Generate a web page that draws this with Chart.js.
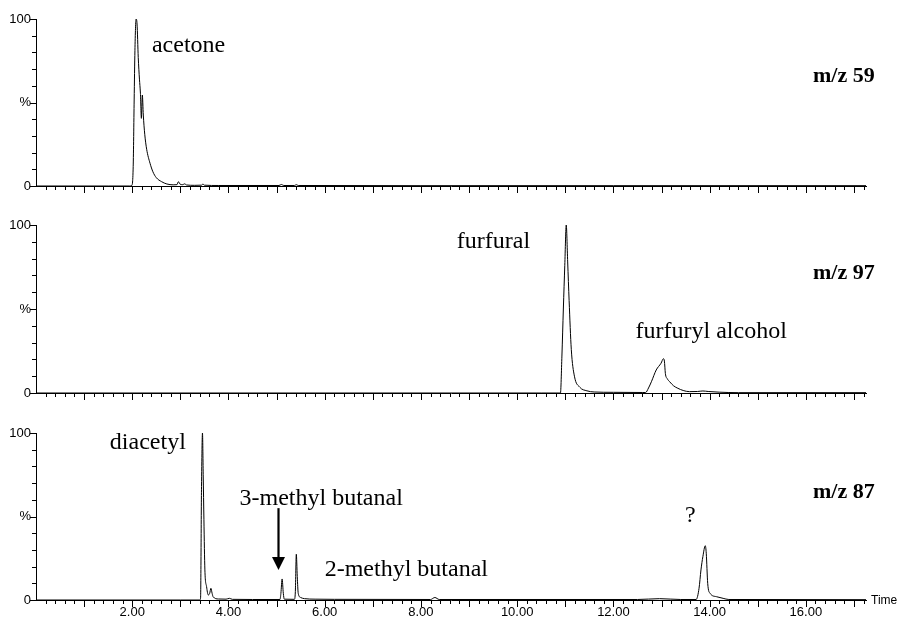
<!DOCTYPE html>
<html>
<head>
<meta charset="utf-8">
<script src="https://cdn.jsdelivr.net/npm/chart.js@4/dist/chart.umd.min.js"></script>
<style>
  html, body { margin: 0; padding: 0; background: #fff; }
  #wrap { position: relative; width: 901px; height: 618px; overflow: hidden; }
  canvas { position: absolute; left: 0; }
</style>
</head>
<body>
<div id="wrap">
  <canvas id="c1" width="901" height="205" style="top:0px"></canvas>
  <canvas id="c2" width="901" height="205" style="top:205px"></canvas>
  <canvas id="c3" width="901" height="208" style="top:410px"></canvas>
</div>
<script>
// ---- Data (retention time in minutes, relative intensity in %) ----
const ionLabels = ['m/z 59', 'm/z 97', 'm/z 87'];
const xTickLabels = ['2.00', '4.00', '6.00', '8.00', '10.00', '12.00', '14.00', '16.00'];
const yTickLabels = ['0', '%', '100'];

const time59 = [0, 1.5, 1.95, 1.99, 2.02, 2.04, 2.056, 2.08, 2.10, 2.125, 2.15, 2.17, 2.19, 2.21, 2.23, 2.26, 2.30, 2.37, 2.43, 2.50, 2.61, 2.72, 2.85, 2.93, 2.96, 2.99, 3.05, 3.09, 3.13, 3.3, 3.44, 3.47, 3.50, 3.8, 5.05, 5.1, 5.15, 5.37, 5.41, 5.45, 8, 12, 17.25];
const int59  = [0, 0, 0, 0.3, 11.6, 51.5, 81, 100, 97, 77, 64, 55.6, 40.5, 54.5, 42.5, 31, 22, 13.6, 8.5, 5, 2.6, 1.2, 0.7, 0.8, 2.6, 1.2, 0.8, 1.3, 0.6, 0.4, 0.5, 1.2, 0.5, 0.3, 0.3, 0.9, 0.3, 0.3, 0.8, 0.3, 0.2, 0.2, 0.2];

const time97 = [0, 10.5, 10.90, 10.93, 10.96, 10.99, 11.02, 11.05, 11.08, 11.125, 11.19, 11.30, 11.45, 11.60, 12.0, 12.6, 12.67, 12.73, 12.79, 12.89, 12.99, 13.04, 13.06, 13.08, 13.12, 13.17, 13.25, 13.34, 13.45, 13.58, 13.75, 13.86, 13.97, 14.2, 14.6, 17.25];
const int97  = [0, 0, 0, 22, 50, 76, 100, 78, 55, 26, 10, 3.5, 1.3, 0.6, 0.4, 0.3, 0.3, 3, 6.7, 13.7, 17.7, 20.4, 19, 11.7, 8.5, 6.7, 4.3, 2.8, 1.5, 0.8, 0.9, 1.2, 0.9, 0.5, 0.2, 0.2];

const time87 = [0, 3.0, 3.40, 3.42, 3.44, 3.46, 3.475, 3.49, 3.51, 3.545, 3.58, 3.61, 3.635, 3.66, 3.68, 3.79, 3.95, 4.02, 4.08, 4.5, 5.07, 5.09, 5.115, 5.14, 5.16, 5.37, 5.39, 5.41, 5.43, 5.45, 5.50, 5.58, 5.8, 6.2, 8.2, 8.29, 8.38, 12.5, 12.96, 13.4, 13.72, 13.78, 13.82, 13.86, 13.91, 13.93, 13.96, 14.01, 14.14, 14.28, 14.4, 17.25];
const int87  = [0, 0, 0, 1, 68, 100, 75, 48, 18, 8, 3, 4, 7, 4, 2, 0.6, 0.5, 1.0, 0.4, 0.3, 0.3, 4, 12.6, 4, 0.5, 0.4, 5, 27.4, 14, 4, 1.5, 0.8, 0.5, 0.4, 0.3, 1.5, 0.3, 0.3, 0.8, 0.3, 0.3, 7, 18, 26, 32.5, 28, 10, 4, 2, 1, 0.3, 0.2];

// ---- Peak annotations ----
const peakNames59 = ['acetone'];
const peakNames97 = ['furfural', 'furfuryl alcohol'];
const peakNames87 = ['diacetyl', '3-methyl butanal', '2-methyl butanal', '?'];

// ---- Rendering ----
const SERIF = '"Liberation Serif", "Times New Roman", serif';
const SANS = '"Liberation Sans", Arial, sans-serif';
const X_MIN = 0, X_MAX = 17.25;

const decor = {
  id: 'decor',
  afterDraw(chart, args, opts) {
    const ctx = chart.ctx, xs = chart.scales.x, ys = chart.scales.y;
    ctx.save();
    ctx.strokeStyle = '#000';
    ctx.lineWidth = 1;
    ctx.beginPath();
    const yb = Math.round(ys.bottom);
    xs.ticks.forEach(t => {
      if (t.value <= 0) return;
      const px = Math.round(xs.getPixelForValue(t.value)) + 0.5;
      const major = Math.abs(t.value - Math.round(t.value)) < 1e-6;
      ctx.moveTo(px, yb);
      ctx.lineTo(px, yb + (major ? 7 : 4));
    });
    const xl = Math.round(xs.left);
    ys.ticks.forEach(t => {
      const py = Math.round(ys.getPixelForValue(t.value)) + 0.5;
      const major = Math.round(t.value) % 50 === 0;
      ctx.moveTo(xl, py);
      ctx.lineTo(xl - (major ? 6 : 4), py);
    });
    ctx.stroke();

    ctx.fillStyle = '#000';
    ctx.textBaseline = 'alphabetic';
    (opts.labels || []).forEach(l => {
      ctx.font = l.font;
      ctx.textAlign = l.align || 'left';
      ctx.fillText(l.text, xs.getPixelForValue(l.x), ys.getPixelForValue(l.y));
    });

    if (opts.arrow) {
      const a = opts.arrow;
      const ax = Math.round(xs.getPixelForValue(a.x)) + 0.5;
      const y1 = ys.getPixelForValue(a.from);
      const y2 = ys.getPixelForValue(a.to);
      const headLen = 13, headW = 6.5;
      ctx.lineWidth = 2.2;
      ctx.beginPath();
      ctx.moveTo(ax, y1);
      ctx.lineTo(ax, y2 - headLen + 1);
      ctx.stroke();
      ctx.beginPath();
      ctx.moveTo(ax - headW, y2 - headLen);
      ctx.lineTo(ax + headW, y2 - headLen);
      ctx.lineTo(ax, y2);
      ctx.closePath();
      ctx.fill();
    }

    if (opts.axisTitle) {
      ctx.font = '12px ' + SANS;
      ctx.textAlign = 'left';
      ctx.textBaseline = 'middle';
      ctx.fillText(opts.axisTitle, xs.right + 5, ys.bottom + 1);
    }
    ctx.restore();
  }
};

function makeChart(id, times, values, padTop, xAxisH, showXLabels, decorOpts) {
  const points = times.map((t, i) => ({ x: t, y: values[i] }));
  return new Chart(document.getElementById(id), {
    type: 'line',
    data: {
      datasets: [{
        data: points,
        borderColor: '#000',
        borderWidth: 1,
        pointRadius: 0,
        fill: false,
        cubicInterpolationMode: 'monotone'
      }]
    },
    options: {
      responsive: false,
      animation: false,
      devicePixelRatio: 1,
      events: [],
      layout: { padding: { top: padTop, left: 0, right: 35, bottom: 0 } },
      plugins: { legend: { display: false }, tooltip: { enabled: false }, decor: decorOpts },
      scales: {
        x: {
          type: 'linear',
          min: X_MIN,
          max: X_MAX,
          grid: { display: false, drawTicks: false },
          border: { display: true, color: '#000', width: 1 },
          ticks: {
            display: showXLabels,
            stepSize: 0.2,
            maxTicksLimit: 1000,
            includeBounds: false,
            autoSkip: false,
            maxRotation: 0,
            padding: 5,
            color: '#000',
            font: { family: SANS, size: 13 },
            callback: (v) => {
              const r = Math.round(v);
              if (Math.abs(v - r) < 1e-6 && r > 0 && r % 2 === 0) {
                const s = r.toFixed(2);
                return xTickLabels.includes(s) ? s : '';
              }
              return '';
            }
          },
          afterFit: (s) => { s.height = xAxisH; }
        },
        y: {
          min: 0,
          max: 100,
          grid: { display: false, drawTicks: false },
          border: { display: true, color: '#000', width: 1 },
          ticks: {
            stepSize: 10,
            autoSkip: false,
            padding: 5,
            color: '#000',
            font: { family: SANS, size: 13 },
            callback: (v) => (v === 0 ? yTickLabels[0] : v === 50 ? yTickLabels[1] : v === 100 ? yTickLabels[2] : '')
          },
          afterFit: (s) => { s.width = 36; }
        }
      }
    },
    plugins: [decor]
  });
}

const LABEL_FONT = '24px ' + SERIF;
const ION_FONT = 'bold 22px ' + SERIF;

makeChart('c1', time59, int59, 19, 19, false, {
  labels: [
    { text: peakNames59[0], x: 2.41, y: 80.2, font: LABEL_FONT },
    { text: ionLabels[0], x: 17.43, y: 62.3, font: ION_FONT, align: 'right' }
  ]
});

makeChart('c2', time97, int97, 20, 17, false, {
  labels: [
    { text: peakNames97[0], x: 10.27, y: 86.3, font: LABEL_FONT, align: 'right' },
    { text: peakNames97[1], x: 12.46, y: 32.7, font: LABEL_FONT },
    { text: ionLabels[1], x: 17.43, y: 67.9, font: ION_FONT, align: 'right' }
  ]
});

makeChart('c3', time87, int87, 23, 18, true, {
  labels: [
    { text: peakNames87[0], x: 1.535, y: 90.4, font: LABEL_FONT },
    { text: peakNames87[1], x: 4.23, y: 57, font: LABEL_FONT },
    { text: peakNames87[2], x: 6.0, y: 14.5, font: LABEL_FONT },
    { text: peakNames87[3], x: 13.49, y: 47, font: LABEL_FONT },
    { text: ionLabels[2], x: 17.43, y: 61.1, font: ION_FONT, align: 'right' }
  ],
  arrow: { x: 5.03, from: 55, to: 18 },
  axisTitle: 'Time'
});
</script>
</body>
</html>
